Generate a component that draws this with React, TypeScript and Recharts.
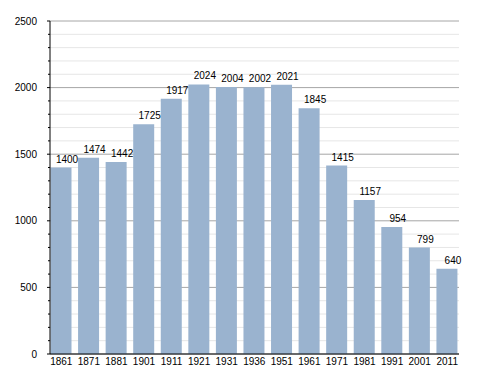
import { BarChart, Bar, XAxis, YAxis, CartesianGrid, LabelList } from 'recharts';

const YEARS = [
  '1861', '1871', '1881', '1901', '1911', '1921', '1931', '1936',
  '1951', '1961', '1971', '1981', '1991', '2001', '2011',
];
const POPULATION = [
  1400, 1474, 1442, 1725, 1917, 2024, 2004, 2002,
  2021, 1845, 1415, 1157, 954, 799, 640,
];
const Y_TICKS = [
  0, 100, 200, 300, 400, 500, 600, 700, 800, 900, 1000, 1100, 1200,
  1300, 1400, 1500, 1600, 1700, 1800, 1900, 2000, 2100, 2200, 2300, 2400, 2500,
];

const data = YEARS.map((year, i) => ({ year, value: POPULATION[i] }));

const BAR_COLOR = '#9ab3cf';
const FONT = '"Liberation Sans", Arial, sans-serif';

const YTick = ({ x, y, payload }: any) => {
  const major = payload.value % 500 === 0;
  return (
    <g>
      <line x1={x - (major ? 3 : 2)} x2={x} y1={y} y2={y} stroke="#000" strokeWidth={1} />
      {major && (
        <text x={x - 13} y={y} dy="0.36em" textAnchor="end" fontSize={10} fontFamily={FONT} fill="#000">
          {payload.value}
        </text>
      )}
    </g>
  );
};

const GridLine = (props: any) => {
  const { x1, x2, y1, y2, index } = props;
  const major = index % 5 === 0;
  return (
    <line
      key={`g-${index}`}
      x1={x1}
      x2={x2}
      y1={y1}
      y2={y2}
      stroke={major ? '#a6a6a6' : '#e6e6e6'}
      strokeWidth={1}
    />
  );
};

const ValueLabel = ({ x, y, width, value }: any) => (
  <text x={x + width / 2 + 6} y={y - 5} textAnchor="middle" fontSize={10} fontFamily={FONT} fill="#000">
    {value}
  </text>
);

export default function App() {
  return (
    <div style={{ width: 480, height: 365, background: '#fff' }}>
      <BarChart width={480} height={365} data={data} margin={{ top: 13, right: 29, bottom: 0, left: 0 }}>
        <CartesianGrid vertical={false} horizontal={GridLine} />
        <XAxis
          dataKey="year"
          interval={0}
          height={19}
          tickLine={false}
          tickSize={2}
          tickMargin={2}
          padding={{ left: -2.5, right: -2 }}
          axisLine={{ stroke: '#000' }}
          tick={{ fontSize: 10, fill: '#000', fontFamily: FONT }}
        />
        <YAxis
          width={42}
          domain={[0, 2500]}
          ticks={Y_TICKS}
          interval={0}
          tickLine={false}
          tickSize={0}
          tickMargin={0}
          axisLine={{ stroke: '#000' }}
          tick={<YTick />}
        />
        <Bar dataKey="value" fill={BAR_COLOR} barSize={21} isAnimationActive={false}>
          <LabelList dataKey="value" content={<ValueLabel />} />
        </Bar>
      </BarChart>
    </div>
  );
}
